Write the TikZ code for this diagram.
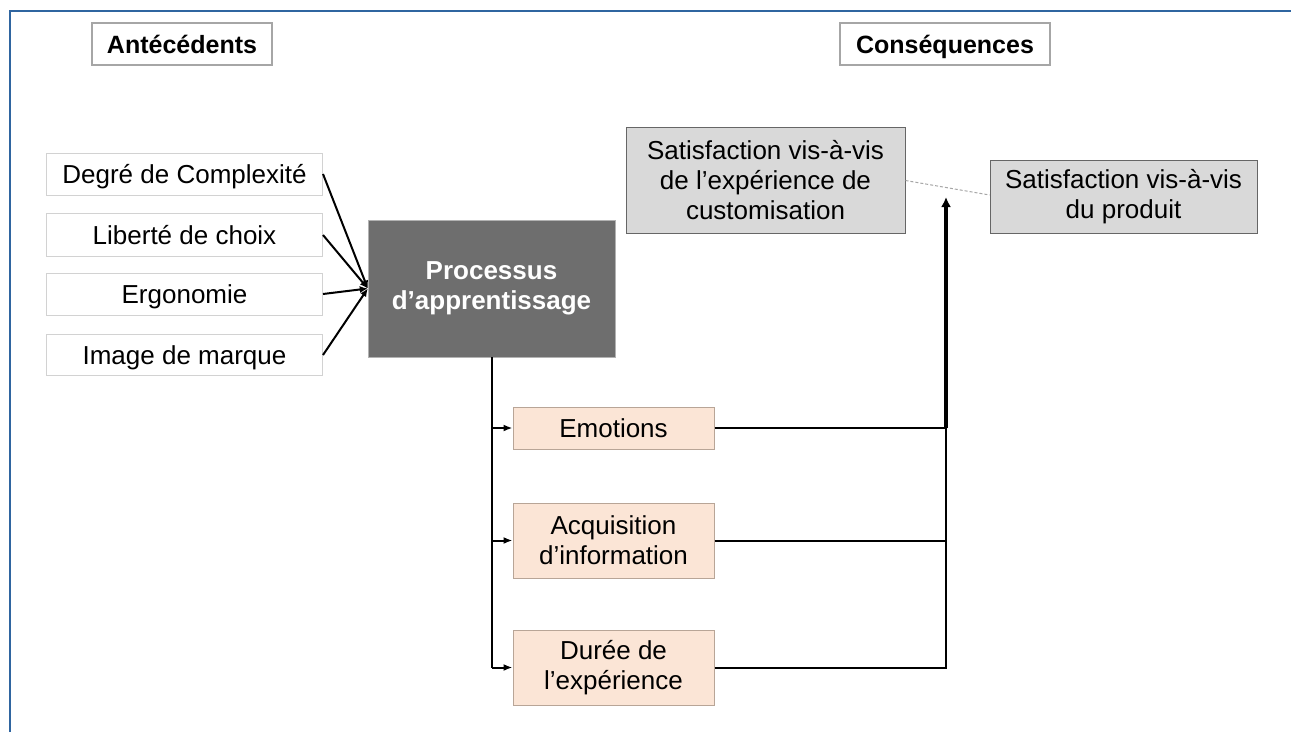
\documentclass[tikz,border=0pt]{standalone}
\usepackage{fontspec}
\setmainfont{Liberation Sans}
\usetikzlibrary{arrows.meta}
\definecolor{frameblue}{HTML}{2F65A0}
\definecolor{procgray}{HTML}{6E6E6E}
\definecolor{satgray}{HTML}{D9D9D9}
\definecolor{peach}{HTML}{FBE5D6}
\definecolor{peachline}{HTML}{B8A597}
\begin{document}
\begin{tikzpicture}[x=1pt,y=-1pt,
  every node/.style={inner sep=0pt, align=center, font=\fontsize{26}{30}\selectfont},
  oneline/.style={text height=18.6pt, text depth=0pt},
  headbox/.style={draw=gray!70, fill=white, line width=1.2pt, font=\fontsize{25}{28}\selectfont\bfseries, minimum height=42pt, text height=18pt, text depth=0pt},
  antbox/.style={draw=gray!35, fill=white, line width=1pt, minimum width=276pt, oneline},
  procbox/.style={draw=gray!60, fill=procgray, text=white, font=\fontsize{26}{30}\selectfont\bfseries, minimum width=247pt, minimum height=137pt},
  medbox/.style={draw=peachline, fill=peach, line width=1pt, minimum width=201pt},
  satbox/.style={draw=gray!80!black, fill=satgray, line width=1pt},
  conn/.style={line width=2pt},
  tip/.style={-{Latex[length=9pt,width=7pt]}}
]
\useasboundingbox (0,0) rectangle (1291,732);
\fill[white] (0,0) rectangle (1291,732);
\draw[frameblue, line width=2.5pt] (10,732) -- (10,11) -- (1291,11);

% headers
\node[headbox, minimum width=180pt] (ant) at (182,44) {Antécédents};
\node[headbox, minimum width=210pt] (cons) at (945,44) {Conséquences};

% antecedents
\node[antbox, minimum height=42pt] (deg) at (184.5,174) {Degré de Complexité};
\node[antbox, minimum height=43pt] (lib) at (184.5,235) {Liberté de choix};
\node[antbox, minimum height=42pt] (erg) at (184.5,294) {Ergonomie};
\node[antbox, minimum height=41pt] (img) at (184.5,355) {Image de marque};

% process
\node[procbox] (proc) at (491.5,288.5) {Processus\\d’apprentissage};

% mediators
\node[medbox, minimum height=42pt, oneline] (emo) at (613.5,428) {Emotions};
\node[medbox, minimum height=75pt] (acq) at (613.5,540.5) {Acquisition\\d’information};
\node[medbox, minimum height=75pt] (dur) at (613.5,667.5) {Durée de\\l’expérience};

% consequences
\node[satbox, minimum width=279pt, minimum height=106pt] (satexp) at (765.5,180) {Satisfaction vis-à-vis\\de l’expérience de\\customisation};
\node[satbox, minimum width=267pt, minimum height=73pt] (satprod) at (1123.5,196.5) {Satisfaction vis-à-vis\\du produit};

% antecedents -> process
\foreach \n in {deg,lib,erg,img}
  \draw[conn, -{Latex[length=8pt,width=7pt]}] (\n.east) -- (proc.west);

% process -> mediators
\draw[conn] (proc.south) -- (proc.south |- dur.west);
\foreach \n in {emo,acq,dur}
  \draw[conn, tip] (proc.south |- \n.west) -- (\n.west);

% mediators -> consequences
\coordinate (j1) at (946,428);
\coordinate (j2) at (946,540.5);
\coordinate (j3) at (946,667.5);
\coordinate (top) at (946,197);
\draw[conn] (dur.east) -- (j3) -- (j2) -- (j1);
\draw[conn] (acq.east) -- (j2);
\draw[conn] (emo.east) -- (j1);
\draw[line width=3.5pt, -{Latex[length=10pt,width=10pt]}] (j1) -- (top);

% link between consequences
\draw[gray!70, line width=1pt, densely dashed] (satexp.east |- 0,180.5) -- (satprod.west |- 0,195);
\end{tikzpicture}
\end{document}
